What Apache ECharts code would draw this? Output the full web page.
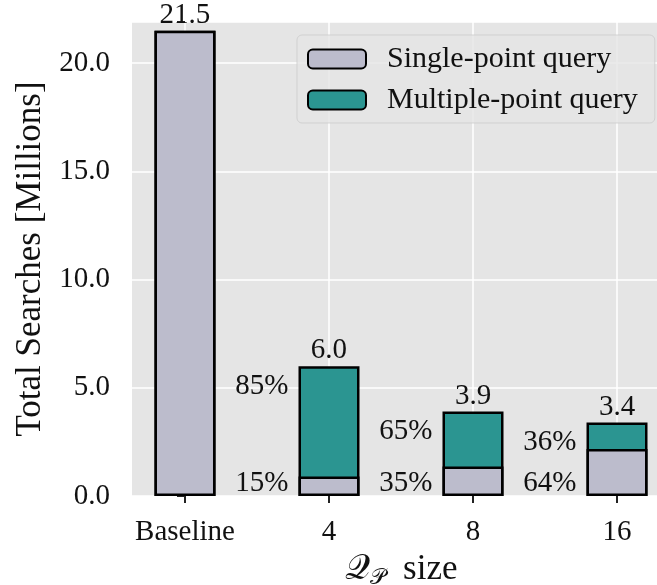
<!DOCTYPE html>
<html>
<head>
<meta charset="utf-8">
<script src="https://cdn.jsdelivr.net/npm/echarts@6/dist/echarts.min.js"></script>
<style>
  html, body { margin: 0; padding: 0; background: #fff; }
  #chart { width: 657px; height: 585px; }
</style>
</head>
<body>
<div id="chart"></div>
<script>
// Search counts per configuration (millions) and the single-point share (%)
const categories = ['Baseline', '4', '8', '16'];
const totals = [21.5, 6.0, 3.9, 3.4];
const singleShare = [100, 15, 35, 64];
const yTicks = [0, 5, 10, 15, 20];
const seriesNames = ['Single-point query', 'Multiple-point query'];

const FONT = "'Liberation Serif', 'DejaVu Serif', serif";
const SINGLE_COLOR = '#bcbccc';
const MULTI_COLOR = '#2b9591';
const NUM_SIZE = 29;
const TEXT_SIZE = 30;
const TITLE_SIZE = 35;

const positions = categories.map((_, i) => i);
const singleVals = totals.map((t, i) => +(t * singleShare[i] / 100).toFixed(4));

const pctLabel = {
  show: true,
  color: '#111',
  fontSize: NUM_SIZE,
  fontFamily: FONT,
  align: 'right',
  verticalAlign: 'middle'
};

// Each column: the full total drawn first, the single-point part laid over
// its lower portion, so the upper visible part is the multiple-point share.
const multiData = positions.map((x, i) => ({
  value: [x, totals[i]],
  label: {
    show: true, position: 'top', distance: 1,
    formatter: totals[i].toFixed(1),
    color: '#111', fontSize: NUM_SIZE, fontFamily: FONT
  }
}));

const singleData = positions.map((x, i) => ({
  value: [x, singleVals[i]],
  label: singleShare[i] >= 100 ? { show: false } : Object.assign({}, pctLabel, {
    position: [-10, '100%'], offset: [0, -13],
    formatter: singleShare[i] + '%'
  })
}));

// share labels for the upper segment, anchored just below the column top
const multiPctData = positions.map((x, i) => ({
  value: [x, totals[i]],
  label: singleShare[i] >= 100 ? { show: false } : Object.assign({}, pctLabel, {
    position: [-10, 20],
    formatter: (100 - singleShare[i]) + '%'
  })
}));

const chart = echarts.init(document.getElementById('chart'), null, { renderer: 'canvas' });

chart.setOption({
  animation: false,
  backgroundColor: '#ffffff',
  textStyle: { fontFamily: FONT },
  grid: {
    left: 132, right: -13, top: 22, bottom: 89,
    outerBoundsMode: 'none',
    containLabel: false,
    show: true, backgroundColor: '#e5e5e5', borderWidth: 0
  },
  legend: {
    data: seriesNames,
    orient: 'vertical',
    left: 297, top: 35,
    itemWidth: 58, itemHeight: 19, itemGap: 11,
    padding: [9, 17, 8, 10],
    backgroundColor: 'rgba(229,229,229,0.8)',
    borderColor: 'rgba(204,204,204,0.8)',
    borderWidth: 1,
    borderRadius: 5,
    textStyle: {
      fontSize: TEXT_SIZE, lineHeight: 28, fontFamily: FONT, color: '#111',
      padding: [0, 0, 0, 16]
    }
  },
  xAxis: {
    type: 'value',
    min: -0.368, max: 3.368,
    offset: 3,
    axisLine: { show: false },
    axisTick: { show: true, length: 7, customValues: positions, lineStyle: { color: '#222', width: 2 } },
    axisLabel: {
      customValues: positions,
      formatter: v => categories[Math.round(v)],
      fontSize: NUM_SIZE, fontFamily: FONT, color: '#111', margin: 19
    },
    splitLine: { show: true, lineStyle: { color: '#ffffff', width: 1.5 } },
    name: '{q|𝒬}{p|𝒫}{s|  size}',
    nameLocation: 'middle',
    nameGap: 46,
    nameTextStyle: {
      rich: {
        q: { fontSize: TITLE_SIZE, lineHeight: 40, fontFamily: FONT, color: '#111' },
        p: { fontSize: 22, lineHeight: 22, verticalAlign: 'bottom', fontFamily: FONT, color: '#111' },
        s: { fontSize: TITLE_SIZE, lineHeight: 40, fontFamily: FONT, color: '#111' }
      }
    }
  },
  yAxis: {
    type: 'value',
    min: 0, max: 21.9, interval: 5,
    offset: 3,
    axisLine: { show: false },
    axisTick: { show: true, length: 8, lineStyle: { color: '#222', width: 2 } },
    axisLabel: {
      formatter: v => yTicks.includes(v) ? v.toFixed(1) : '',
      fontSize: NUM_SIZE, fontFamily: FONT, color: '#111', margin: 19
    },
    splitLine: { show: true, lineStyle: { color: '#ffffff', width: 1.5 } },
    name: 'Total Searches [Millions]',
    nameLocation: 'middle',
    nameGap: 80,
    nameTextStyle: { fontSize: TITLE_SIZE, fontFamily: FONT, color: '#111' }
  },
  series: [
    {
      name: seriesNames[1], type: 'bar', barWidth: 61, barGap: '-100%',
      itemStyle: { color: MULTI_COLOR, borderColor: '#000', borderWidth: 2.5 },
      data: multiData
    },
    {
      name: seriesNames[0], type: 'bar', barWidth: 61, barGap: '-100%',
      itemStyle: { color: SINGLE_COLOR, borderColor: '#000', borderWidth: 2.5 },
      data: singleData
    },
    {
      name: 'share', type: 'bar', barWidth: 61, barGap: '-100%',
      itemStyle: { color: 'rgba(0,0,0,0)', borderWidth: 0 },
      silent: true,
      data: multiPctData
    }
  ]
});
</script>
</body>
</html>
